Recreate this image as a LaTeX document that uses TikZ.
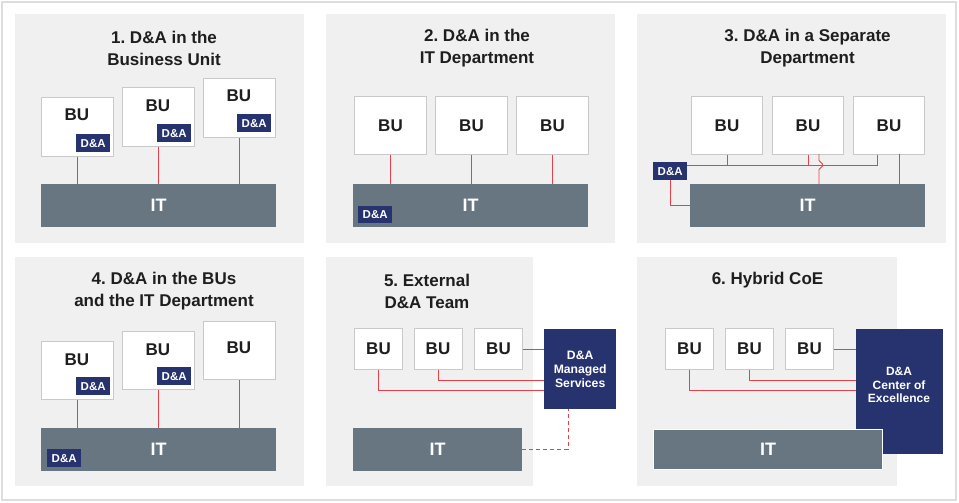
\documentclass[tikz,border=0pt]{standalone}
\usepackage{fontspec}
\setmainfont{Liberation Sans}
\frenchspacing
\definecolor{panelbg}{HTML}{F0F0F0}
\definecolor{framec}{HTML}{DCDDDD}
\definecolor{boxline}{HTML}{C9C9C9}
\definecolor{navy}{HTML}{27336F}
\definecolor{itgrey}{HTML}{687682}
\definecolor{linkred}{HTML}{E5414B}
\definecolor{titlec}{HTML}{1E1E1E}
\tikzset{
  panel/.style={fill=panelbg, draw=none},
  bubox/.style={draw=boxline, line width=1pt, fill=white, anchor=north west, inner sep=0pt},
  butext/.style={font=\fontsize{17}{17}\selectfont\bfseries, text=titlec, inner sep=0pt},
  itbar/.style={fill=itgrey, anchor=north west, inner sep=0pt, text=white,
    font=\fontsize{18}{18}\selectfont\bfseries},
  badge/.style={fill=navy, text=white, font=\fontsize{11.5}{11.5}\selectfont\bfseries,
    minimum width=34pt, minimum height=18pt, inner sep=0pt, anchor=north west},
  titletext/.style={font=\fontsize{17}{22}\selectfont\bfseries, text=titlec, align=center, inner sep=0pt},
  link/.style={draw=linkred, line width=0.9pt},
  bigbox/.style={fill=navy, anchor=north west, inner sep=0pt},
  bigtext/.style={text=white, align=center, inner sep=0pt, font=\fontsize{12.2}{14}\selectfont\bfseries},
}
\begin{document}
\begin{tikzpicture}[x=1pt,y=-1pt]
\useasboundingbox (0,0) rectangle (959,503);
\fill[white] (0,0) rectangle (959,503);
\draw[draw=framec, line width=2pt] (2,2) rectangle (956,500);
% panels
\fill[panel] (15,14) rectangle (304,243);
\fill[panel] (326,14) rectangle (615,243);
\fill[panel] (637,14) rectangle (946,243);
\fill[panel] (15,257) rectangle (304,486);
\fill[panel] (326,257) rectangle (533,486);
\fill[panel] (637,257) rectangle (897,486);

% ---------- Panel 1 ----------
\node[titletext] (p1title) at (164,48) {1. D\&A in the\\Business Unit};
\node[bubox, minimum width=72pt, minimum height=59pt] (p1b1) at (41,97) {};
\node[bubox, minimum width=72pt, minimum height=59pt] (p1b2) at (122,87) {};
\node[bubox, minimum width=72pt, minimum height=59pt] (p1b3) at (203,78) {};
\node[butext] (p1t1) at (77,115) {BU};
\node[butext] (p1t2) at (158,106) {BU};
\node[butext] (p1t3) at (239,96) {BU};
\node[badge] (p1d1) at (76,134) {D\&A};
\node[badge] (p1d2) at (157,124) {D\&A};
\node[badge] (p1d3) at (237,114) {D\&A};
\node[itbar, minimum width=235pt, minimum height=43pt] (p1it) at (41,184) {IT};
\draw[link] (p1b1.south) -- (p1b1.south |- p1it.north);
\draw[link] (p1b2.south) -- (p1b2.south |- p1it.north);
\draw[link] (p1b3.south) -- (p1b3.south |- p1it.north);

% ---------- Panel 2 ----------
\node[titletext] (p2title) at (477,48) {2. D\&A in the\\IT Department};
\node[bubox, minimum width=72pt, minimum height=58pt] (p2b1) at (354,96) {};
\node[bubox, minimum width=72pt, minimum height=58pt] (p2b2) at (435,96) {};
\node[bubox, minimum width=72pt, minimum height=58pt] (p2b3) at (516,96) {};
\node[butext] (p2t1) at (p2b1.center) {BU};
\node[butext] (p2t2) at (p2b2.center) {BU};
\node[butext] (p2t3) at (p2b3.center) {BU};
\node[itbar, minimum width=235pt, minimum height=43pt] (p2it) at (353,184) {IT};
\node[badge, minimum height=17pt] (p2d) at (358,206) {D\&A};
\draw[link] (p2b1.south) -- (p2b1.south |- p2it.north);
\draw[link] (p2b2.south) -- (p2b2.south |- p2it.north);
\draw[link] (p2b3.south) -- (p2b3.south |- p2it.north);

% ---------- Panel 3 ----------
\node[titletext] (p3title) at (807.5,48) {3. D\&A in a Separate\\Department};
\node[bubox, minimum width=71pt, minimum height=58pt] (p3b1) at (691,96) {};
\node[bubox, minimum width=71pt, minimum height=58pt] (p3b2) at (772,96) {};
\node[bubox, minimum width=71pt, minimum height=58pt] (p3b3) at (853,96) {};
\node[butext] (p3t1) at (p3b1.center) {BU};
\node[butext] (p3t2) at (p3b2.center) {BU};
\node[butext] (p3t3) at (p3b3.center) {BU};
\node[itbar, minimum width=235pt, minimum height=43pt] (p3it) at (690,184) {IT};
\node[badge] (p3d) at (653,162) {D\&A};
\coordinate (p3h0) at (687,165);
\coordinate (p3h1) at (727,165);
\coordinate (p3h2) at (808,165);
\coordinate (p3h3) at (877,165);
\draw[link] (p3h0) -- (p3h3) -- (p3h3 |- p3b3.south);
\draw[link] (p3h1) -- (p3h1 |- p3b1.south);
\draw[link] (p3h2) -- (p3h2 |- p3b2.south);
\coordinate (p3v1) at (819,154);
\coordinate (p3v2) at (899,154);
\draw[link] (p3v1) -- (819,160.5) -- (822.5,164) -- (822.5,166) -- (819,169.5) -- (p3v1 |- p3it.north);
\draw[link] (p3v2) -- (p3v2 |- p3it.north);
\draw[link] (p3d.south) |- (p3it.west);

% ---------- Panel 4 ----------
\node[titletext] (p4title) at (164,291) {4. D\&A in the BUs\\and the IT Department};
\node[bubox, minimum width=72pt, minimum height=58pt] (p4b1) at (41,341) {};
\node[bubox, minimum width=72pt, minimum height=58pt] (p4b2) at (122,331) {};
\node[bubox, minimum width=72pt, minimum height=58pt] (p4b3) at (203,321) {};
\node[butext] (p4t1) at (77,360) {BU};
\node[butext] (p4t2) at (158,350) {BU};
\node[butext] (p4t3) at (239,348) {BU};
\node[badge] (p4d1) at (76,377) {D\&A};
\node[badge] (p4d2) at (157,367) {D\&A};
\node[itbar, minimum width=235pt, minimum height=43pt] (p4it) at (41,428) {IT};
\node[badge] (p4d3) at (47,449) {D\&A};
\draw[link] (p4b1.south) -- (p4b1.south |- p4it.north);
\draw[link] (p4b2.south) -- (p4b2.south |- p4it.north);
\draw[link] (p4b3.south) -- (p4b3.south |- p4it.north);

% ---------- Panel 5 ----------
\node[titletext] (p5title) at (427,291) {5. External\\D\&A Team};
\node[bubox, minimum width=48pt, minimum height=41pt] (p5b1) at (354,328) {};
\node[bubox, minimum width=48pt, minimum height=41pt] (p5b2) at (413.5,328) {};
\node[bubox, minimum width=48pt, minimum height=41pt] (p5b3) at (474,328) {};
\node[butext] (p5t1) at (p5b1.center) {BU};
\node[butext] (p5t2) at (p5b2.center) {BU};
\node[butext] (p5t3) at (p5b3.center) {BU};
\node[bigbox, minimum width=72pt, minimum height=80pt] (p5ms) at (544,329) {};
\node[bigtext] (p5mst) at (p5ms.center) {D\&A\\Managed\\Services};
\node[itbar, minimum width=169pt, minimum height=43pt] (p5it) at (353,428) {IT};
\coordinate (p5j1) at (544,390);
\coordinate (p5j2) at (544,380);
\coordinate (p5d) at (568,409);
\draw[link] (p5b3.east) -- (p5b3.east -| p5ms.west);
\draw[link] (p5b2.south) |- (p5j2);
\draw[link] (p5b1.south) |- (p5j1);
\draw[link, dash pattern=on 4pt off 3pt] (p5it.east) -| (p5d);

% ---------- Panel 6 ----------
\node[titletext] (p6title) at (767.5,280) {6. Hybrid CoE};
\node[bubox, minimum width=48pt, minimum height=41pt] (p6b1) at (665,328) {};
\node[bubox, minimum width=48pt, minimum height=41pt] (p6b2) at (725,328) {};
\node[bubox, minimum width=48pt, minimum height=41pt] (p6b3) at (785,328) {};
\node[butext] (p6t1) at (p6b1.center) {BU};
\node[butext] (p6t2) at (p6b2.center) {BU};
\node[butext] (p6t3) at (p6b3.center) {BU};
\node[bigbox, minimum width=87pt, minimum height=125pt] (p6coe) at (856,329) {};
\node[bigtext, font=\fontsize{12}{13.5}\selectfont\bfseries] (p6coet) at (899,385) {D\&A\\Center of\\Excellence};
\node[itbar, draw=white, line width=1pt, minimum width=229pt, minimum height=40pt] (p6it) at (653,429) {IT};
\coordinate (p6j1) at (856,390);
\coordinate (p6j2) at (856,380);
\draw[link] (p6b3.east) -- (p6b3.east -| p6coe.west);
\draw[link] (p6b2.south) |- (p6j2);
\draw[link] (p6b1.south) |- (p6j1);
\end{tikzpicture}
\end{document}
